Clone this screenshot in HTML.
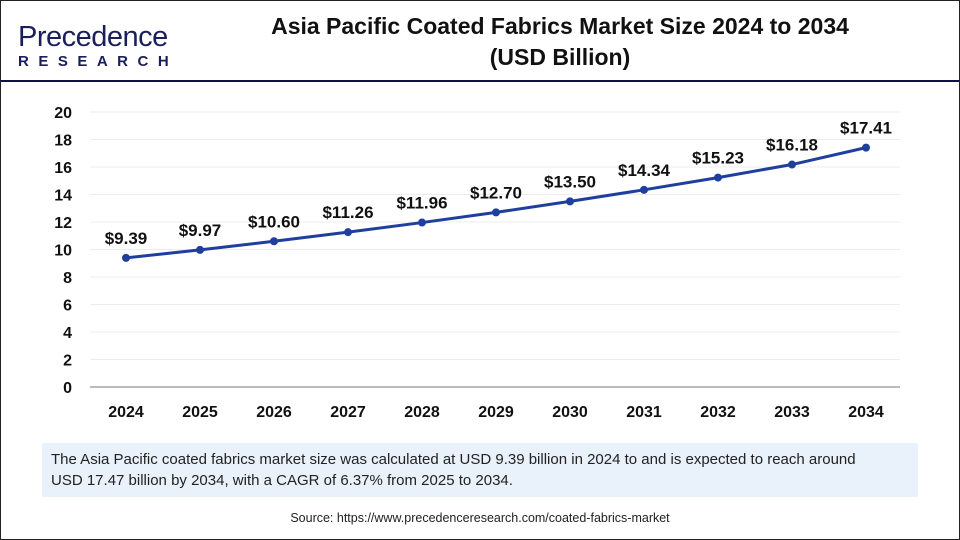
<!DOCTYPE html>
<html><head><meta charset="utf-8"><style>
body{margin:0;width:960px;height:540px;overflow:hidden;background:#fff;font-family:"Liberation Sans",sans-serif}
#frame{position:absolute;left:0;top:0;width:958px;height:538px;border:1px solid #222}
</style></head><body>
<div id="frame"></div>
<div style="position:absolute;left:18px;top:22px">
 <div style="font-size:29px;color:#1a1f5c;letter-spacing:-0.5px;line-height:30px">Precedence</div>
 <div style="font-size:15px;font-weight:bold;color:#1a1f5c;letter-spacing:9.5px;margin-top:1px">RESEARCH</div>
</div>
<div style="position:absolute;left:220px;top:11px;width:680px;text-align:center;font-size:23px;font-weight:bold;color:#111;line-height:31px">Asia Pacific Coated Fabrics Market Size 2024 to 2034<br>(USD Billion)</div>
<div style="position:absolute;left:1px;top:80px;width:958px;height:2px;background:#0d1445"></div>
<svg id="chart" width="960" height="540" style="position:absolute;left:0;top:0"></svg>
<div style="position:absolute;left:42px;top:443px;height:54px;background:#e9f1fb;padding:6px 30px 0 9px;font-size:15px;color:#222;line-height:21px;box-sizing:border-box;width:876px">The Asia Pacific coated fabrics market size was calculated at USD 9.39 billion in 2024 to and is expected to reach around USD 17.47 billion by 2034, with a CAGR of 6.37% from 2025 to 2034.</div>
<div style="position:absolute;left:0;top:511px;width:960px;text-align:center;font-size:12.5px;color:#222">Source: https://www.precedenceresearch.com/coated-fabrics-market</div>
<script>
const years=["2024","2025","2026","2027","2028","2029","2030","2031","2032","2033","2034"];
const values=[9.39,9.97,10.60,11.26,11.96,12.70,13.50,14.34,15.23,16.18,17.41];
const labels=["$9.39","$9.97","$10.60","$11.26","$11.96","$12.70","$13.50","$14.34","$15.23","$16.18","$17.41"];
const yTicks=[0,2,4,6,8,10,12,14,16,18,20];
const svg=document.getElementById('chart');const NS="http://www.w3.org/2000/svg";
const x=i=>126+i*74;const y=v=>387-v*13.75;
function mk(t,a){const e=document.createElementNS(NS,t);for(const k in a)e.setAttribute(k,a[k]);svg.appendChild(e);return e;}
yTicks.forEach(t=>{
 if(t>0){const g=mk('line',{x1:90,x2:900,y1:y(t),y2:y(t),stroke:'#ececec','stroke-width':1});
 
 }
 const l=mk('text',{x:72,y:y(t)+6,'text-anchor':'end','font-size':16,'font-weight':'bold',fill:'#111'});l.textContent=t;
 
 
});
const ax=mk('line',{x1:90,x2:900,y1:387,y2:387,stroke:'#bbb','stroke-width':2});


years.forEach((yr,i)=>{const t=mk('text',{x:x(i),y:417,'text-anchor':'middle','font-size':16,'font-weight':'bold',fill:'#111'});t.textContent=yr;
 
 });
const line=mk('polyline',{points:values.map((v,i)=>x(i)+','+y(v)).join(' '),fill:'none',stroke:'#1f3f9f','stroke-width':3});


values.forEach((v,i)=>{const c=mk('circle',{cx:x(i),cy:y(v),r:4,fill:'#1f3f9f'});
 
 
 const t=mk('text',{x:x(i),y:y(v)-14,'text-anchor':'middle','font-size':17,'font-weight':'bold',fill:'#111'});t.textContent=labels[i];
 
 });
</script>
</body></html>
